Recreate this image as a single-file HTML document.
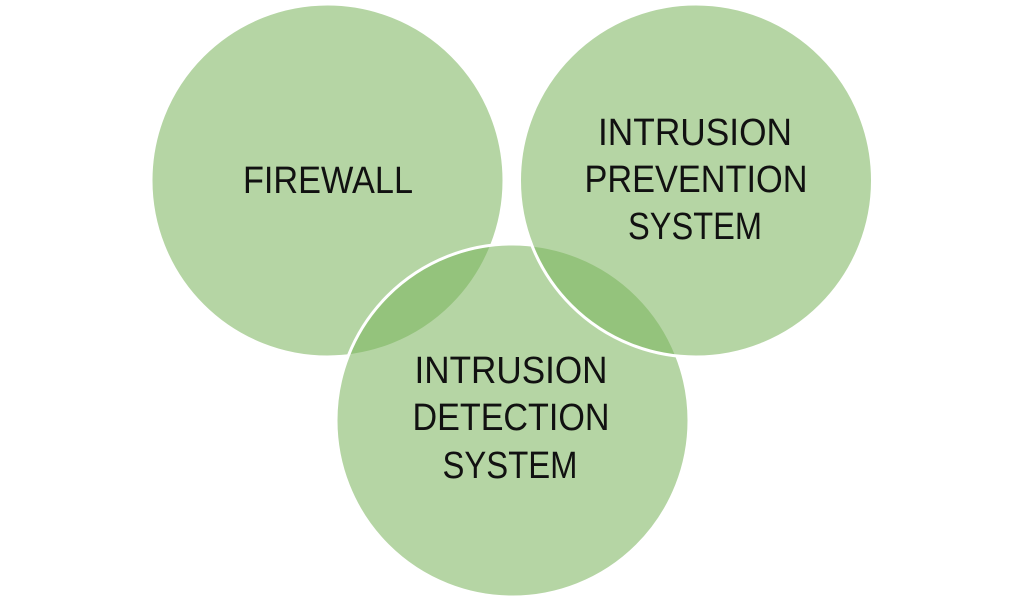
<!DOCTYPE html>
<html>
<head>
<meta charset="utf-8">
<style>
  html, body { margin: 0; padding: 0; background: #ffffff; }
  body { width: 1024px; height: 601px; overflow: hidden; }
  svg { display: block; }
  text { font-family: "Liberation Sans", "DejaVu Sans", sans-serif; fill: #111111; font-size: 38px; }
</style>
</head>
<body>
<svg width="1024" height="601" viewBox="0 0 1024 601" xmlns="http://www.w3.org/2000/svg">
  <rect width="1024" height="601" fill="#ffffff"/>
  <!-- Firewall -->
  <circle cx="327.5" cy="180.5" r="176.5" fill="#7bb45d" fill-opacity="0.56" stroke="#ffffff" stroke-width="3"/>
  <!-- IDS -->
  <circle cx="512.5" cy="420.5" r="176.5" fill="#7bb45d" fill-opacity="0.56" stroke="#ffffff" stroke-width="3"/>
  <!-- IPS -->
  <circle cx="696" cy="180.5" r="176.5" fill="#7bb45d" fill-opacity="0.56" stroke="#ffffff" stroke-width="3"/>

  <text x="328" y="193" text-anchor="middle" textLength="170" lengthAdjust="spacingAndGlyphs">FIREWALL</text>

  <text x="695" y="145" text-anchor="middle" textLength="194" lengthAdjust="spacingAndGlyphs">INTRUSION</text>
  <text x="696" y="192" text-anchor="middle" textLength="223" lengthAdjust="spacingAndGlyphs">PREVENTION</text>
  <text x="695" y="239" text-anchor="middle" textLength="134" lengthAdjust="spacingAndGlyphs">SYSTEM</text>

  <text x="511" y="383" text-anchor="middle" textLength="193" lengthAdjust="spacingAndGlyphs">INTRUSION</text>
  <text x="511" y="430" text-anchor="middle" textLength="197" lengthAdjust="spacingAndGlyphs">DETECTION</text>
  <text x="510" y="478" text-anchor="middle" textLength="135" lengthAdjust="spacingAndGlyphs">SYSTEM</text>
</svg>
</body>
</html>
